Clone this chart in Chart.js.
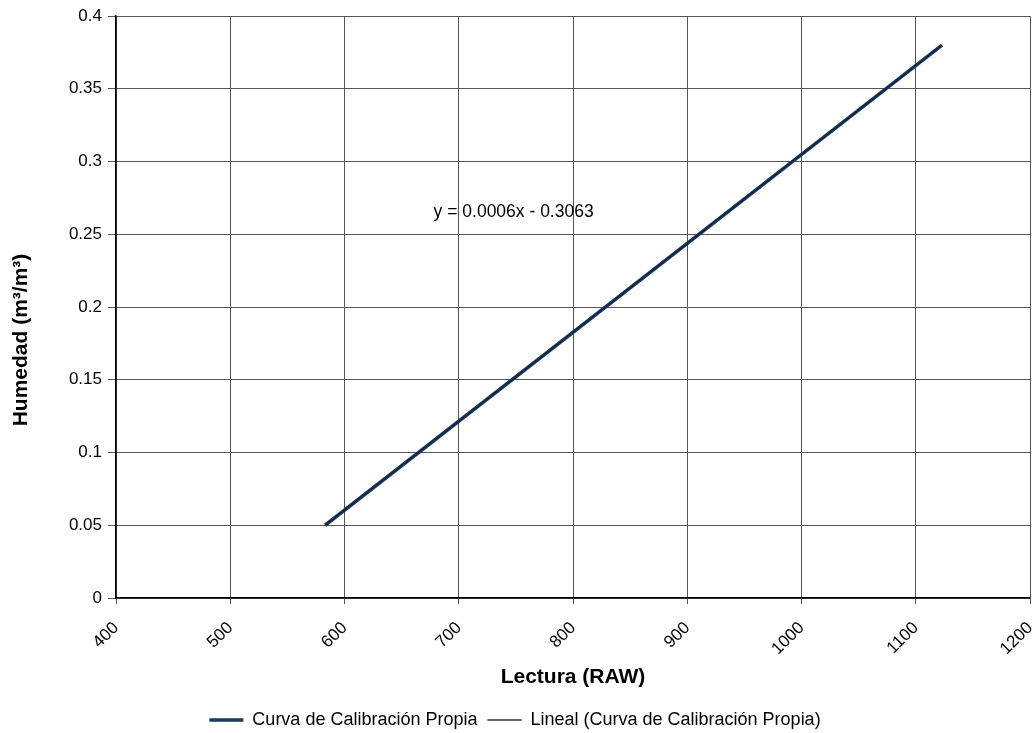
<!DOCTYPE html>
<html><head><meta charset="utf-8">
<script src="https://cdn.jsdelivr.net/npm/chart.js@4/dist/chart.umd.min.js"></script>
<style>html,body{margin:0;padding:0;background:#fff}#wrap{width:1034px;height:733px}</style>
</head><body><div id="wrap"><canvas id="c" width="1034" height="733"></canvas></div>
<script>
const lecturas = [583, 1123];
const humedad = [0.05, 0.38];
const trendX = [583, 1123];
const trendY = [0.0500, 0.3800];
const equationText = 'y = 0.0006x - 0.3063';
const xTitle = 'Lectura (RAW)';
const yTitle = 'Humedad (m\u00B3/m\u00B3)';
const seriesName = 'Curva de Calibración Propia';
const trendName = 'Lineal (Curva de Calibración Propia)';

const FONT = 'Liberation Sans, Arial, sans-serif';

const textPlugin = {
  id: 'texts',
  afterDatasetsDraw(chart) {
    const {ctx, chartArea, scales:{x, y}} = chart;
    ctx.save();
    ctx.font = '17.5px ' + FONT;
    ctx.fillStyle = '#000';
    ctx.textBaseline = 'middle';
    ctx.textAlign = 'left';
    ctx.fillText(equationText, x.getPixelForValue(678), y.getPixelForValue(0.265));
    // y-axis title, placed a little below the plot centre as in the source
    ctx.translate(21, (chartArea.top + chartArea.bottom) / 2 + 33);
    ctx.rotate(-Math.PI / 2);
    ctx.textAlign = 'center';
    ctx.font = 'bold 21px ' + FONT;
    ctx.fillText(yTitle, 0, 0);
    ctx.restore();
  }
};

new Chart(document.getElementById('c'), {
  type: 'scatter',
  data: {
    datasets: [
      {
        label: seriesName,
        data: lecturas.map((v,i)=>({x:v, y:humedad[i]})),
        showLine: true,
        borderColor: '#1a3a66',
        backgroundColor: '#1a3a66',
        borderWidth: 3.5,
        pointRadius: 0,
        order: 2
      },
      {
        label: trendName,
        data: trendX.map((v,i)=>({x:v, y:trendY[i]})),
        showLine: true,
        borderColor: '#000',
        backgroundColor: '#000',
        borderWidth: 0.6,
        pointRadius: 0,
        order: 1
      }
    ]
  },
  options: {
    responsive: false,
    animation: false,
    layout: { padding: { top: 16, right: 4, left: 0, bottom: -6 } },
    plugins: {
      legend: {
        position: 'bottom',
        labels: {
          font: { family: FONT, size: 18 },
          color: '#000',
          boxWidth: 34,
          boxHeight: 0,
          padding: 10,
          generateLabels(chart) {
            return chart.data.datasets.map((d,i)=>({
              text: d.label,
              fillStyle: i===0 ? d.borderColor : '#333',
              strokeStyle: i===0 ? d.borderColor : '#333',
              lineWidth: i===0 ? 3.5 : 1,
              hidden: false,
              datasetIndex: i,
              fontColor: '#000'
            }));
          }
        }
      },
      tooltip: { enabled: false }
    },
    scales: {
      x: {
        type: 'linear',
        min: 400, max: 1200,
        ticks: { stepSize: 100, minRotation: 45, maxRotation: 45, color: '#000', font: { family: FONT, size: 17 }, padding: 14,
          callback: v => String(v) },
        grid: { color: '#555', lineWidth: 1, tickLength: 6, tickColor: '#555' },
        border: { color: '#000', width: 1.5 },
        title: { display: true, text: xTitle, color: '#000', font: { family: FONT, size: 21, weight: 'bold' }, padding: { top: 4, bottom: 11 } },
        afterFit(s) { s.height = 103; s.paddingRight = 0; s.paddingLeft = 0; }
      },
      y: {
        min: 0, max: 0.4,
        ticks: { stepSize: 0.05, color: '#000', font: { family: FONT, size: 17 }, padding: 6,
          callback: v => String(Math.round(v*100)/100) },
        grid: { color: '#555', lineWidth: 1, tickLength: 8, tickColor: '#555' },
        border: { color: '#000', width: 1.5 },
        title: { display: false },
        afterFit(s) { s.width = 116; s.paddingTop = 0; s.paddingBottom = 0; }
      }
    }
  },
  plugins: [textPlugin]
});
</script></body></html>
